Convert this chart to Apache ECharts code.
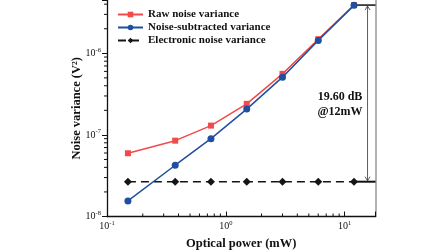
<!DOCTYPE html>
<html><head><meta charset="utf-8">
<script src="https://cdn.jsdelivr.net/npm/echarts@6/dist/echarts.min.js"></script>
<style>html,body{margin:0;padding:0;background:#fff}#c{width:448px;height:252px}</style>
</head><body><div id="c"></div>
<script>
const power = [0.15, 0.375, 0.75, 1.5, 3, 6, 12];
const rawNoise = [5.96e-8, 8.5e-8, 1.3e-7, 2.4e-7, 5.6e-7, 1.49e-6, 3.9e-6];
const subNoise = [1.55e-8, 4.25e-8, 9.0e-8, 2.07e-7, 5.1e-7, 1.44e-6, 3.87e-6];
const elecNoise = [2.67e-8, 2.67e-8, 2.67e-8, 2.67e-8, 2.67e-8, 2.67e-8, 2.67e-8];
const xMin = 0.1, xMax = 18.2, yMin = 1e-8, yMax = 4.5e-6;
const xMinorTicks = [0.2,0.3,0.4,0.5,0.6,0.7,0.8,0.9,2,3,4,5,6,7,8,9];
const yMinorTicks = [2e-8,3e-8,4e-8,5e-8,6e-8,7e-8,8e-8,9e-8,2e-7,3e-7,4e-7,5e-7,6e-7,7e-7,8e-7,9e-7,2e-6,3e-6,4e-6];
const annoX = 15.6;
const annoText = ['19.60 dB', '@12mW'];
const annoTextPos = [9.15, 2.37e-7];

const FONT = 'Liberation Serif';
function powLabel(v){
  const l = Math.log10(v);
  if (Math.abs(l - Math.round(l)) > 1e-6) return '';
  return '{b|10}{s|' + Math.round(l) + '}';
}
const rich = {
  b: {fontFamily: FONT, fontSize: 10, color: '#111'},
  s: {fontFamily: FONT, fontSize: 6.5, color: '#111', padding: [0,0,7,0]}
};
const pts = power.map((p,i)=>[p, rawNoise[i]]);
const pts2 = power.map((p,i)=>[p, subNoise[i]]);
const pts3 = power.map((p,i)=>[p, elecNoise[i]]);

const chart = echarts.init(document.getElementById('c'), null, {renderer:'canvas'});
chart.setOption({
  animation: false,
  grid: {left: 107, right: 72.5, top: 0, bottom: 35.5, outerBoundsMode: 'none', containLabel: false},
  legend: {
    orient: 'vertical', left: 112, top: 4, itemGap: 2,
    itemWidth: 25, itemHeight: 7,
    textStyle: {fontFamily: FONT, fontWeight: 'bold', fontSize: 11, color: '#111'},
    data: ['Raw noise variance', 'Noise-subtracted variance', 'Electronic noise variance']
  },
  xAxis: [{
    type: 'log', logBase: 10, min: xMin, max: xMax,
    name: 'Optical power (mW)', nameLocation: 'middle', nameGap: 21, nameMoveOverlap: false,
    nameTextStyle: {fontFamily: FONT, fontWeight: 'bold', fontSize: 12.5, color: '#111'},
    axisLine: {lineStyle: {color: '#111', width: 1.3}},
    axisTick: {inside: true, length: 5, lineStyle: {color: '#111'}},
    axisLabel: {formatter: powLabel, rich: rich, margin: 3},
    splitLine: {show: false}
  }],
  yAxis: [{
    type: 'log', logBase: 10, min: yMin, max: yMax,
    name: 'Noise variance (V²)', nameLocation: 'middle', nameGap: 24, nameMoveOverlap: false,
    nameTextStyle: {fontFamily: FONT, fontWeight: 'bold', fontSize: 12.5, color: '#111'},
    axisLine: {lineStyle: {color: '#111', width: 1.3}},
    axisTick: {inside: false, length: 5, lineStyle: {color: '#111'}},
    axisLabel: {formatter: powLabel, rich: rich, margin: 6},
    splitLine: {show: false}
  },{
    type: 'log', logBase: 10, min: yMin, max: yMax, position: 'right',
    axisLine: {show: true, lineStyle: {color: '#999', width: 1.5}},
    axisTick: {show: false}, axisLabel: {show: false}, splitLine: {show: false}
  }],
  series: [
    {name: 'Raw noise variance', type: 'line', data: pts, symbol: 'rect', symbolSize: 6,
     itemStyle: {color: '#f24a4a'}, lineStyle: {color: '#f24a4a', width: 1.5}, z: 3},
    {name: 'Noise-subtracted variance', type: 'line', data: pts2, symbol: 'circle', symbolSize: 7,
     itemStyle: {color: '#1f4f9e'}, lineStyle: {color: '#1f4f9e', width: 1.5}, z: 4},
    {name: 'Electronic noise variance', type: 'line', data: pts3, symbol: 'diamond', symbolSize: 8,
     itemStyle: {color: '#151515'}, lineStyle: {color: '#151515', width: 1.5, type: [8,5]}, z: 3},
    {type: 'custom', silent: true, clip: false, data: xMinorTicks.map(v=>[v, yMin]), z: 10,
     renderItem: function(params, api){
       const p = api.coord([api.value(0), yMin]);
       return {type:'line', shape:{x1:p[0], y1:p[1], x2:p[0], y2:p[1]-3}, style:{stroke:'#111', lineWidth:1}};
     }},
    {type: 'custom', silent: true, clip: false, data: yMinorTicks.map(v=>[xMin, v]), z: 10,
     renderItem: function(params, api){
       const p = api.coord([xMin, api.value(1)]);
       return {type:'line', shape:{x1:p[0], y1:p[1], x2:p[0]-3, y2:p[1]}, style:{stroke:'#111', lineWidth:1}};
     }},
    {type: 'custom', silent: true, clip: false, data: [[annoX, 0]],
     renderItem: function(params, api){
       const last = power.length - 1;
       const top = api.coord([power[last], rawNoise[last]]);
       const bot = api.coord([power[last], elecNoise[last]]);
       const right = api.coord([xMax, yMin])[0];
       const ax = api.coord([annoX, yMin])[0];
       const tp = api.coord(annoTextPos);
       const ah = 4, aw = 2.5;
       return {type:'group', children:[
         {type:'line', shape:{x1:top[0], y1:top[1], x2:right, y2:top[1]}, style:{stroke:'#111', lineWidth:1.5}},
         {type:'line', shape:{x1:bot[0], y1:bot[1], x2:right, y2:bot[1]}, style:{stroke:'#111', lineWidth:2}},
         {type:'line', shape:{x1:ax, y1:top[1]+1, x2:ax, y2:bot[1]-1}, style:{stroke:'#333', lineWidth:0.8}},
         {type:'polyline', shape:{points:[[ax-aw, top[1]+ah+1],[ax, top[1]+1],[ax+aw, top[1]+ah+1]]}, style:{stroke:'#333', fill:'none', lineWidth:0.8}},
         {type:'polyline', shape:{points:[[ax-aw, bot[1]-ah-1],[ax, bot[1]-1],[ax+aw, bot[1]-ah-1]]}, style:{stroke:'#333', fill:'none', lineWidth:0.8}},
         {type:'text', x: tp[0], y: tp[1], style:{text: annoText.join('\n'), fontFamily: FONT, fontWeight:'bold', fontSize: 12, lineHeight: 15, fill:'#111', align:'center', verticalAlign:'middle'}}
       ]};
     }}
  ]
});
</script></body></html>
